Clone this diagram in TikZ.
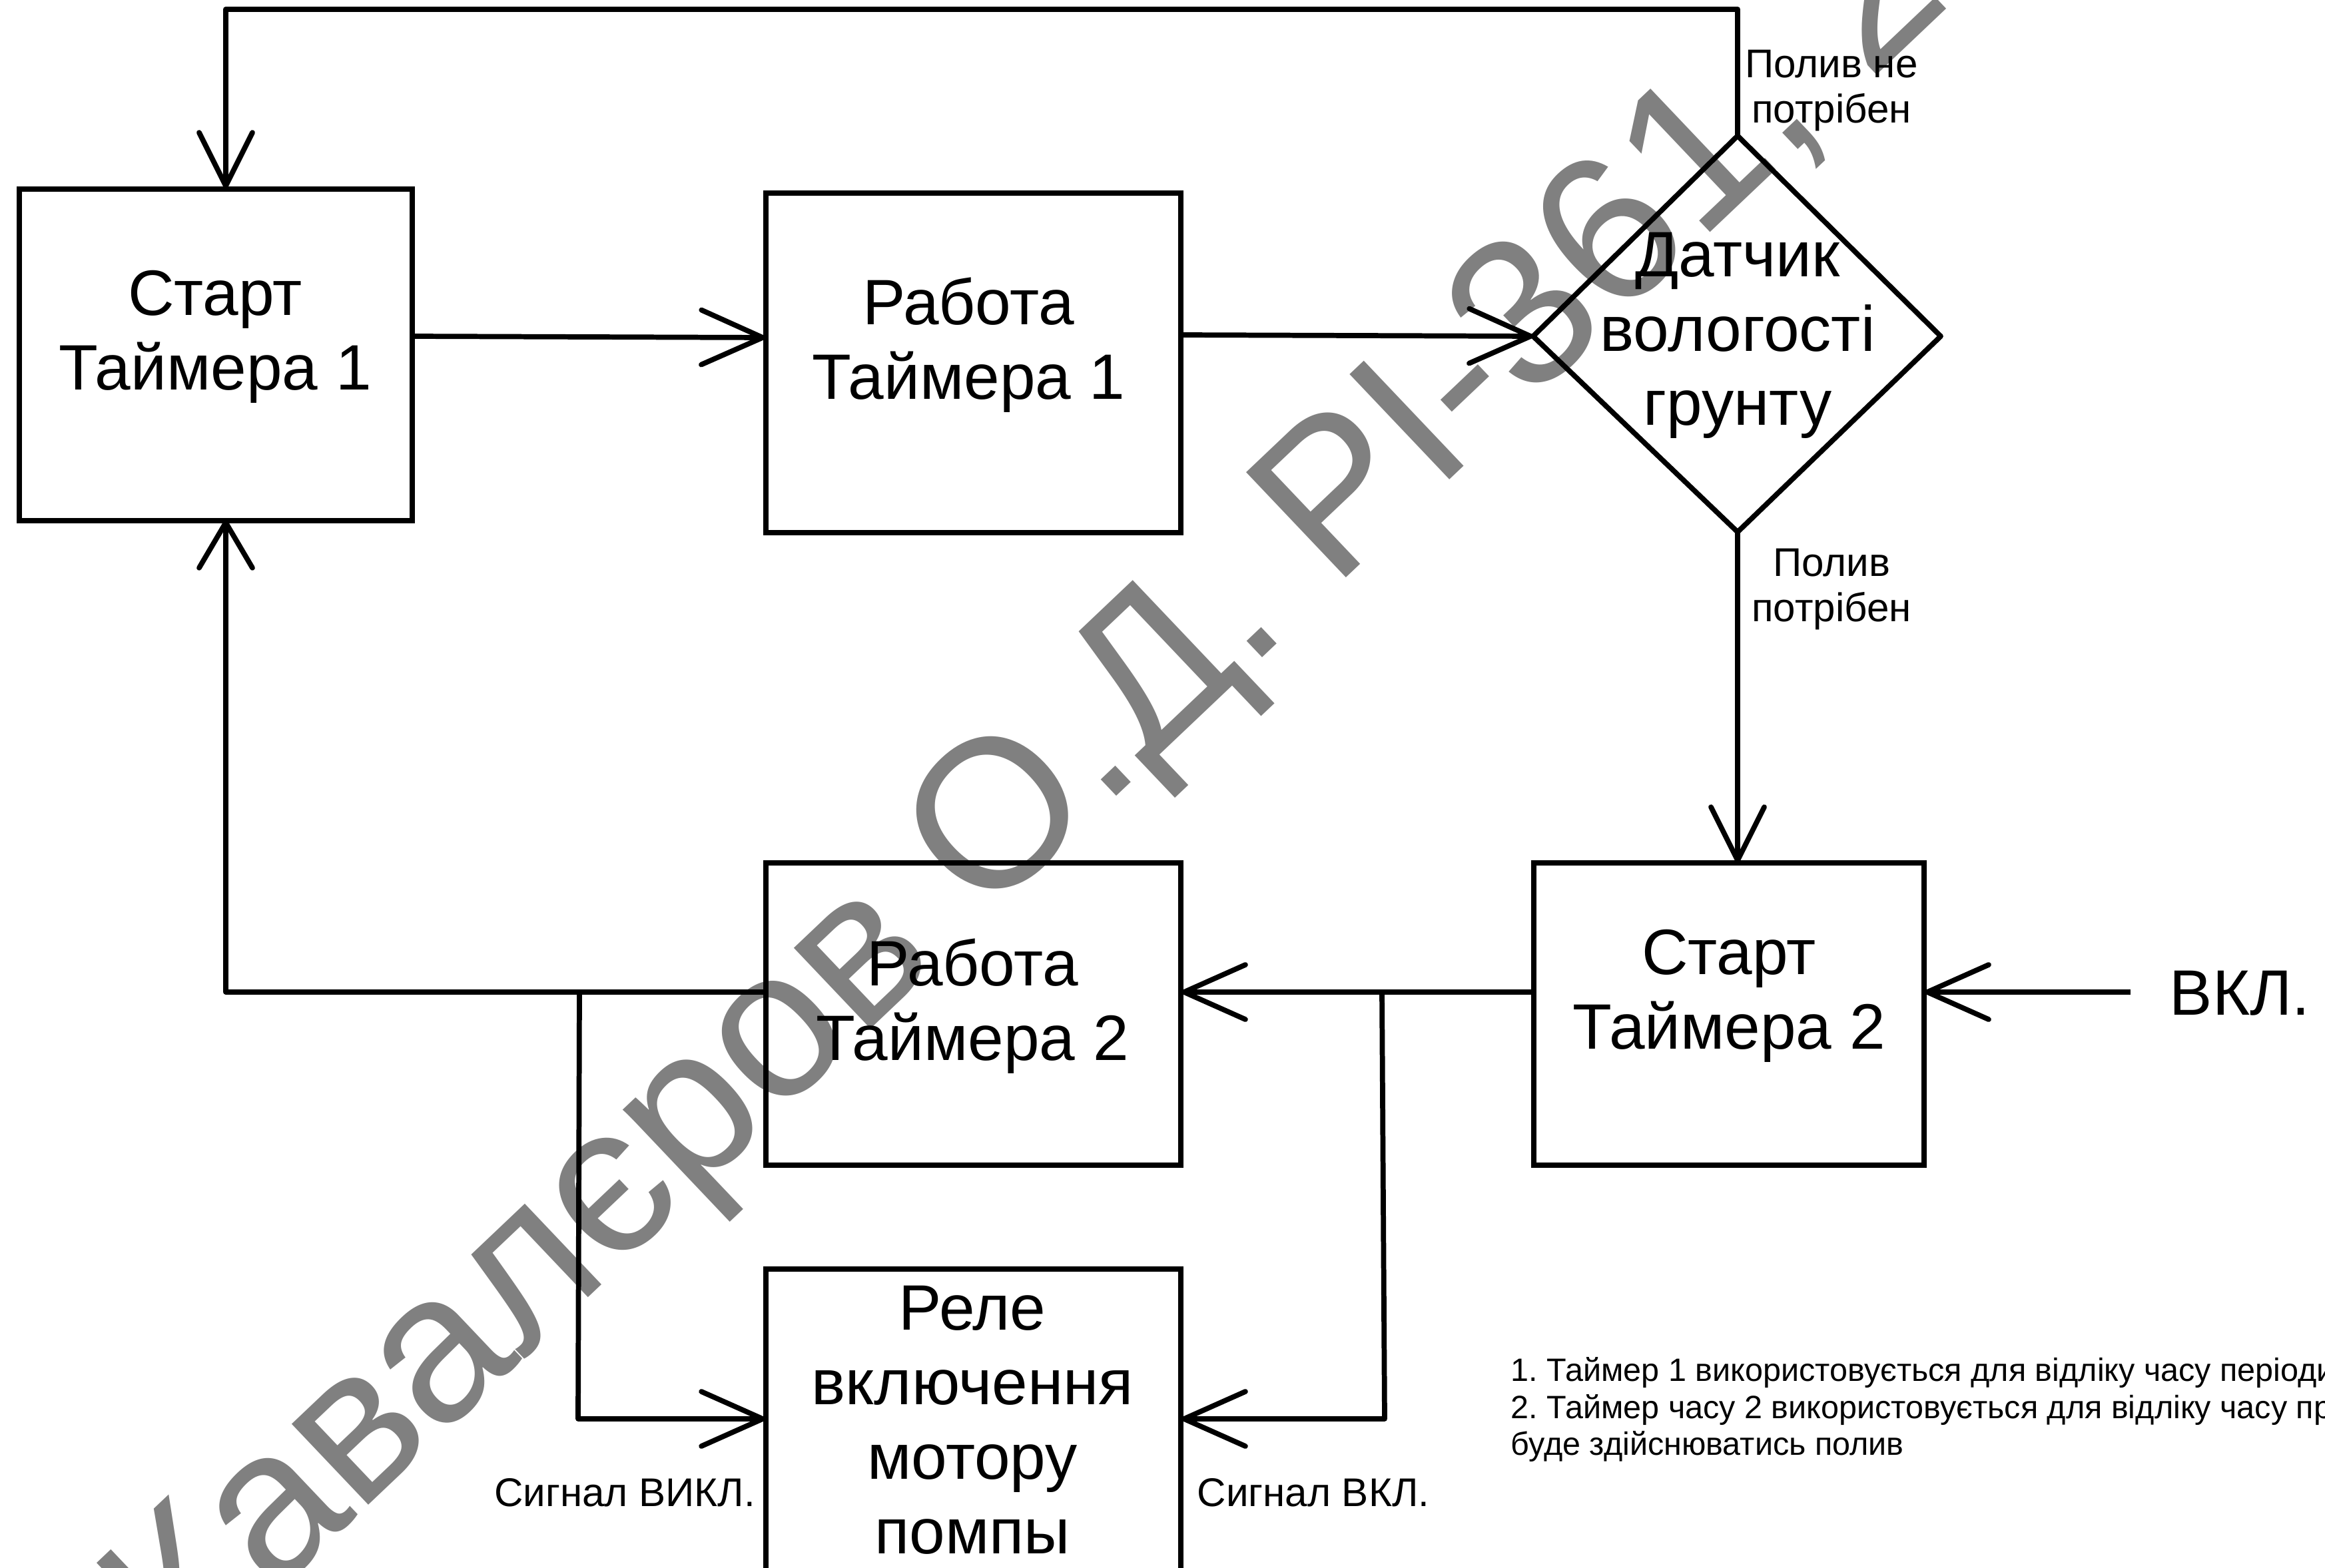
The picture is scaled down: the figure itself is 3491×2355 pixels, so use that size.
\documentclass[tikz,border=0pt]{standalone}
\usepackage{fontspec}
\setmainfont{Liberation Sans}
\usetikzlibrary{arrows.meta}
\tikzset{
  x=0.01cm,y=-0.01cm,
  blockbox/.style={draw=black,line width=2.2pt,inner sep=0pt,fill=none},
  bigtext/.style={align=center,inner sep=0pt,font=\fontsize{27.4}{31.8}\selectfont},
  midtext/.style={align=center,inner sep=0pt,font=\fontsize{17.1}{19.2}\selectfont},
  notetext/.style={align=left,anchor=west,inner sep=0pt,font=\fontsize{13.8}{15.8}\selectfont\frenchspacing},
  conn/.style={draw=black,line width=2.2pt,line join=round},
  arrowed/.style={conn,-{Straight Barb[length=0.92cm,width=0.82cm,line width=2.2pt,round]}},
  arrowedv/.style={conn,-{Straight Barb[length=0.80cm,width=0.80cm,line width=2.2pt,round]}},
  arrowedu/.style={conn,-{Straight Barb[length=0.68cm,width=0.80cm,line width=2.2pt,round]}},
  wmark/.style={inner sep=0pt,text=black!50,font=\fontsize{90}{91}\selectfont,rotate=43.5,anchor=base west}
}
\begin{document}
\begin{tikzpicture}
\useasboundingbox (0,0) rectangle (3491,2355);
\clip (0,0) rectangle (3491,2355);
\node[wmark] (wm) at (276,2524) {Кавалєров О.Д. РІ-361, 2};
% boxes
\node[blockbox,minimum width=5.90cm,minimum height=4.98cm] (st1) at (324,533) {};
\node[blockbox,minimum width=6.22cm,minimum height=5.10cm] (wt1) at (1461.5,545) {};
\node[blockbox,minimum width=6.22cm,minimum height=4.54cm] (wt2) at (1461.5,1523) {};
\node[blockbox,minimum width=5.86cm,minimum height=4.54cm] (st2) at (2596,1523) {};
\node[blockbox,minimum width=6.22cm,minimum height=4.60cm] (rel) at (1461.5,2136) {};
\coordinate (dl) at (2302,505);
\coordinate (dt) at (2609,204);
\coordinate (dr) at (2914,505);
\coordinate (db) at (2609,799);
\draw[conn] (dl)--(dt)--(dr)--(db)--cycle;
% text
\node[bigtext] (tst1) at (323,506) {Старт\\Таймера 1};
\node[bigtext] (twt1) at (1454,518) {Работа\\Таймера 1};
\node[bigtext] (tdat) at (2609,504) {Датчик\\вологості\\грунту};
\node[bigtext] (twt2) at (1460,1511) {Работа\\Таймера 2};
\node[bigtext] (tst2) at (2596,1496) {Старт\\Таймера 2};
\node[bigtext] (trel) at (1460,2133) {Реле\\включення\\мотору\\помпы};
\node[bigtext] (von) at (3363,1492) {ВКЛ.};
\node[midtext] (lno) at (2750,136) {Полив не\\потрібен};
\node[midtext] (lyes) at (2750,885) {Полив\\потрібен};
\node[midtext] (loff) at (938,2242) {Сигнал ВИКЛ.};
\node[midtext] (lon) at (1972,2242) {Сигнал ВКЛ.};
\node[notetext] (n1) at (2268,2062) {1. Таймер 1 використовується для відліку часу періоди};
\node[notetext] (n2) at (2268,2118) {2. Таймер часу 2 використовується для відліку часу про};
\node[notetext] (n3) at (2268,2173) {буде здійснюватись полив};
% connector points
\coordinate (topL) at (339,14);
\coordinate (topR) at (2609,14);
\coordinate (st1top) at (339,283);
\coordinate (st1bot) at (339,781);
\coordinate (st1r) at (619,505);
\coordinate (wt1l) at (1149,507);
\coordinate (wt1r) at (1774,503);
\coordinate (st2t) at (2609,1296);
\coordinate (st2r) at (2890,1490);
\coordinate (st2l) at (2302,1490);
\coordinate (vks) at (3199,1490);
\coordinate (wt2r) at (1774,1490);
\coordinate (wt2l) at (1149,1490);
\coordinate (corner) at (339,1490);
\coordinate (j1) at (870,1490);
\coordinate (j1b) at (868,2131);
\coordinate (j2) at (2075,1490);
\coordinate (j2b) at (2079,2131);
\coordinate (rell) at (1149,2131);
\coordinate (relr) at (1774,2131);
% connectors
\draw[arrowedv] (dt)--(topR)--(topL)--(st1top);
\draw[arrowed] (st1r)--(wt1l);
\draw[arrowed] (wt1r)--(dl);
\draw[arrowedv] (db)--(st2t);
\draw[arrowed] (vks)--(st2r);
\draw[arrowed] (st2l)--(wt2r);
\draw[arrowedu] (wt2l)--(corner)--(st1bot);
\draw[arrowed] (j1)--(j1b)--(rell);
\draw[arrowed] (j2)--(j2b)--(relr);
\end{tikzpicture}
\end{document}
